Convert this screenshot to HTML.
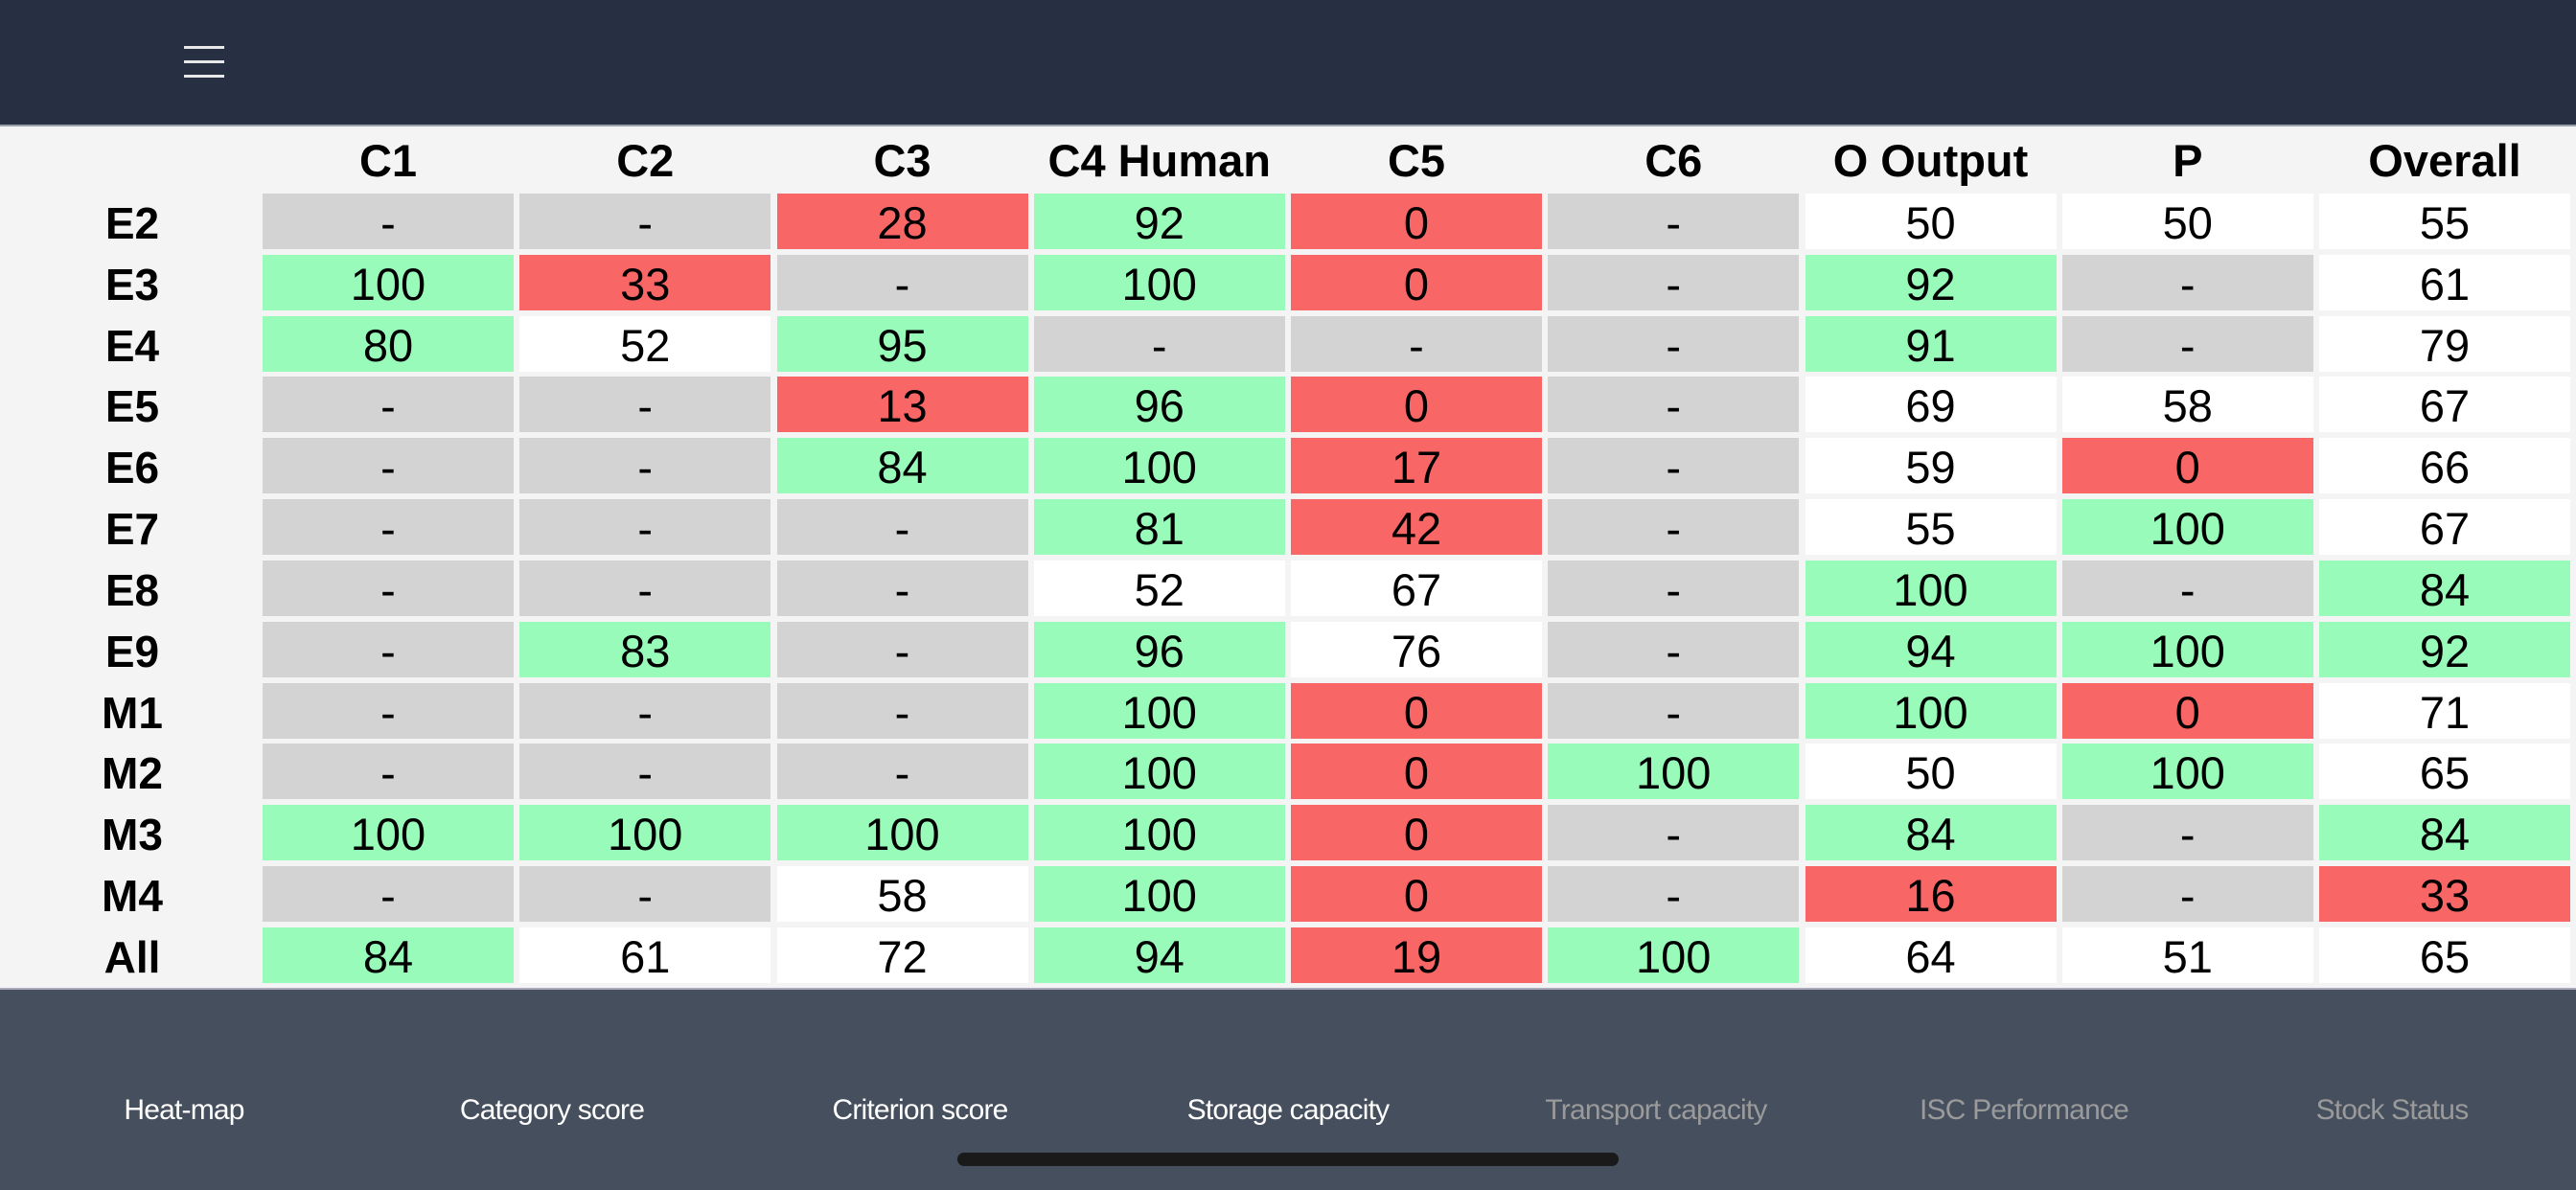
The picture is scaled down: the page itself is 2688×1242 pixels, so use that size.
<!DOCTYPE html>
<html><head><meta charset="utf-8"><style>
html,body{margin:0;padding:0;}
body{width:2688px;height:1242px;position:relative;overflow:hidden;background:#f4f4f4;font-family:"Liberation Sans",sans-serif;}
.top{position:absolute;left:0;top:0;width:2688px;height:132px;background:#263042;border-bottom:2px solid #9aa0a8;box-sizing:border-box;}
.hb{position:absolute;left:192px;width:42px;height:3px;background:#e8e8e8;}
.c{position:absolute;width:262px;height:58px;line-height:62px;text-align:center;font-size:47px;color:#000;}
.h{position:absolute;width:268px;text-align:center;font-size:47px;font-weight:bold;top:140px;line-height:56px;}
.r{position:absolute;left:80px;width:116px;text-align:center;font-size:46px;font-weight:bold;height:58px;line-height:62px;}
.g{background:#98fbba}.x{background:#f96666}.n{background:#d3d3d3}.w{background:#fff}
.nav{position:absolute;left:0;top:1031px;width:2688px;height:211px;background:#464f5e;border-top:2px solid #aab;box-sizing:border-box;}
.l{position:absolute;top:1142px;width:384px;text-align:center;font-size:30px;letter-spacing:-0.8px;color:#fff;}
.d{color:#9a9a9a}
.bar{position:absolute;left:999px;top:1203px;width:690px;height:14px;border-radius:7px;background:#1a1a1a;}
</style></head><body>
<div class="top"><div class="hb" style="top:48px"></div><div class="hb" style="top:63px"></div><div class="hb" style="top:78px"></div></div>
<div id="t"></div>
<div class="nav"></div>
<div class="l" style="left:0">Heat-map</div>
<div class="l" style="left:384px">Category score</div>
<div class="l" style="left:768px">Criterion score</div>
<div class="l" style="left:1152px">Storage capacity</div>
<div class="l d" style="left:1536px">Transport capacity</div>
<div class="l d" style="left:1920px">ISC Performance</div>
<div class="l d" style="left:2304px">Stock Status</div>
<div class="bar"></div>
<script>
var H=["C1","C2","C3","C4 Human","C5","C6","O Output","P","Overall"];
var R=[["E2","n-","n-","x28","g92","x0","n-","w50","w50","w55"],
["E3","g100","x33","n-","g100","x0","n-","g92","n-","w61"],
["E4","g80","w52","g95","n-","n-","n-","g91","n-","w79"],
["E5","n-","n-","x13","g96","x0","n-","w69","w58","w67"],
["E6","n-","n-","g84","g100","x17","n-","w59","x0","w66"],
["E7","n-","n-","n-","g81","x42","n-","w55","g100","w67"],
["E8","n-","n-","n-","w52","w67","n-","g100","n-","g84"],
["E9","n-","g83","n-","g96","w76","n-","g94","g100","g92"],
["M1","n-","n-","n-","g100","x0","n-","g100","x0","w71"],
["M2","n-","n-","n-","g100","x0","g100","w50","g100","w65"],
["M3","g100","g100","g100","g100","x0","n-","g84","n-","g84"],
["M4","n-","n-","w58","g100","x0","n-","x16","n-","x33"],
["All","g84","w61","w72","g94","x19","g100","w64","w51","w65"]];
var s="";
for(var j=0;j<9;j++){s+='<div class="h" style="left:'+(271+j*268.25)+'px">'+H[j]+'</div>';}
for(var i=0;i<13;i++){var y=202+i*63.83;
s+='<div class="r" style="top:'+y+'px">'+R[i][0]+'</div>';
for(var j=0;j<9;j++){var v=R[i][j+1];s+='<div class="c '+v[0]+'" style="left:'+(274+j*268.25)+'px;top:'+y+'px">'+v.slice(1)+'</div>';}}
document.getElementById("t").innerHTML=s;
</script>
</body></html>
